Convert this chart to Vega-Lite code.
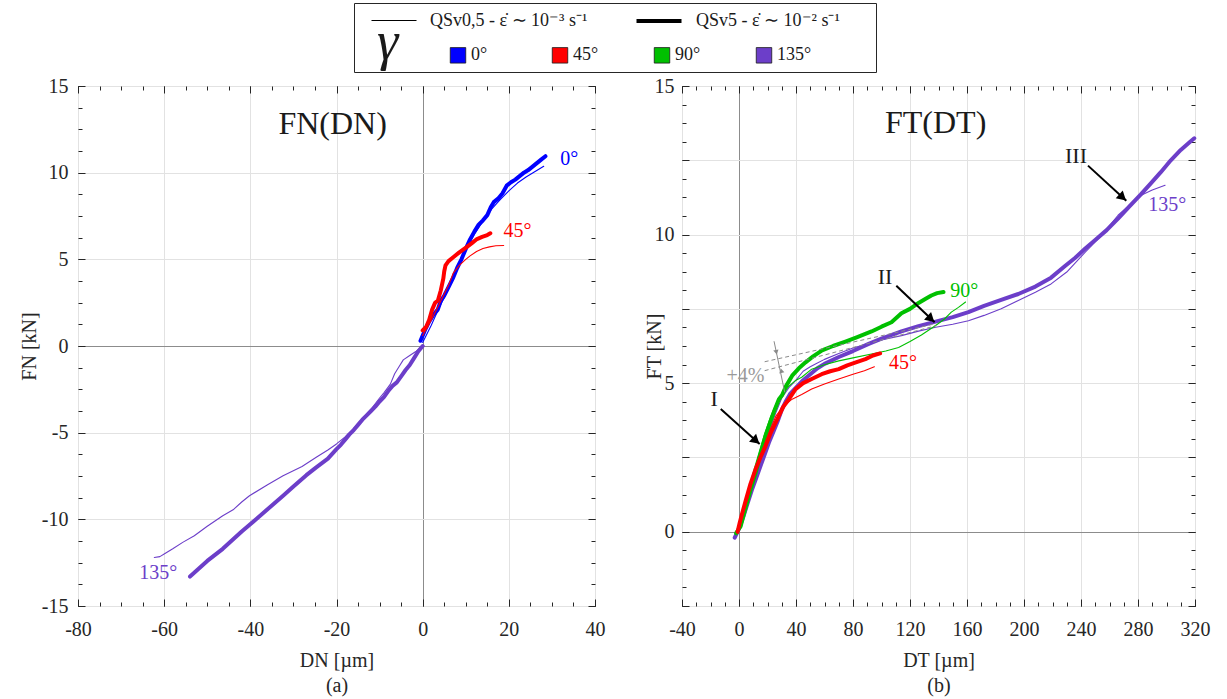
{
"$schema": "https://vega.github.io/schema/vega-lite/v6.json",
"padding": {"left": 18, "top": 2, "right": 5, "bottom": 2},
"config": {
  "font": "Liberation Serif",
  "view": {"stroke": "#262626", "strokeWidth": 1},
  "text": {"font": "Liberation Serif"},
  "axis": {"domain": false, "labelFont": "Liberation Serif", "titleFont": "Liberation Serif", "labelFontSize": 20, "titleFontSize": 20, "titleFontWeight": "normal", "labelColor": "#262626", "titleColor": "#262626", "tickColor": "#262626", "tickWidth": 1, "labelFlush": false, "labelOverlap": false, "gridColor": "#e2e2e2", "gridWidth": 1},
  "legend": {"labelFont": "Liberation Serif", "titleFont": "Liberation Serif", "labelFontSize": 18, "labelColor": "#1a1a1a", "titleColor": "#1a1a1a", "padding": 0}
},
"datasets": {
  "curves": [
    {"p":"a","g":"0°","t":"thick","x":-0.5,"y":0.3},{"p":"a","g":"0°","t":"thick","x":0.5,"y":0.9},{"p":"a","g":"0°","t":"thick","x":1.5,"y":1.4},{"p":"a","g":"0°","t":"thick","x":2.5,"y":1.8},{"p":"a","g":"0°","t":"thick","x":3.5,"y":2.1},{"p":"a","g":"0°","t":"thick","x":4.2,"y":2.6},{"p":"a","g":"0°","t":"thick","x":5,"y":2.9},{"p":"a","g":"0°","t":"thick","x":6,"y":3.4},{"p":"a","g":"0°","t":"thick","x":7,"y":3.9},{"p":"a","g":"0°","t":"thick","x":8,"y":4.5},{"p":"a","g":"0°","t":"thick","x":9,"y":5.0},{"p":"a","g":"0°","t":"thick","x":10,"y":5.6},{"p":"a","g":"0°","t":"thick","x":11,"y":6.15},{"p":"a","g":"0°","t":"thick","x":12,"y":6.6},{"p":"a","g":"0°","t":"thick","x":13,"y":7.0},{"p":"a","g":"0°","t":"thick","x":14,"y":7.25},{"p":"a","g":"0°","t":"thick","x":15,"y":7.55},{"p":"a","g":"0°","t":"thick","x":15.8,"y":8.0},{"p":"a","g":"0°","t":"thick","x":16.5,"y":8.3},{"p":"a","g":"0°","t":"thick","x":17.5,"y":8.5},{"p":"a","g":"0°","t":"thick","x":18.5,"y":8.8},{"p":"a","g":"0°","t":"thick","x":19.5,"y":9.25},{"p":"a","g":"0°","t":"thick","x":20.5,"y":9.45},{"p":"a","g":"0°","t":"thick","x":21.5,"y":9.6},{"p":"a","g":"0°","t":"thick","x":22.5,"y":9.8},{"p":"a","g":"0°","t":"thick","x":23.5,"y":10.0},{"p":"a","g":"0°","t":"thick","x":24.5,"y":10.15},{"p":"a","g":"0°","t":"thick","x":25.5,"y":10.35},{"p":"a","g":"0°","t":"thick","x":26.5,"y":10.55},{"p":"a","g":"0°","t":"thick","x":27.5,"y":10.75},{"p":"a","g":"0°","t":"thick","x":28.5,"y":10.95},
    {"p":"a","g":"0°","t":"thin","x":0,"y":0.2},{"p":"a","g":"0°","t":"thin","x":2,"y":1.2},{"p":"a","g":"0°","t":"thin","x":4,"y":2.3},{"p":"a","g":"0°","t":"thin","x":6,"y":3.3},{"p":"a","g":"0°","t":"thin","x":8,"y":4.4},{"p":"a","g":"0°","t":"thin","x":10,"y":5.5},{"p":"a","g":"0°","t":"thin","x":12,"y":6.45},{"p":"a","g":"0°","t":"thin","x":14,"y":7.2},{"p":"a","g":"0°","t":"thin","x":16,"y":7.9},{"p":"a","g":"0°","t":"thin","x":18,"y":8.45},{"p":"a","g":"0°","t":"thin","x":20,"y":8.95},{"p":"a","g":"0°","t":"thin","x":22,"y":9.4},{"p":"a","g":"0°","t":"thin","x":24,"y":9.75},{"p":"a","g":"0°","t":"thin","x":26,"y":10.05},{"p":"a","g":"0°","t":"thin","x":28.1,"y":10.37},
    {"p":"a","g":"45°","t":"thick","x":0,"y":0.9},{"p":"a","g":"45°","t":"thick","x":0.8,"y":1.1},{"p":"a","g":"45°","t":"thick","x":1.5,"y":1.5},{"p":"a","g":"45°","t":"thick","x":2.2,"y":2.1},{"p":"a","g":"45°","t":"thick","x":2.9,"y":2.5},{"p":"a","g":"45°","t":"thick","x":3.5,"y":2.6},{"p":"a","g":"45°","t":"thick","x":4.2,"y":3.2},{"p":"a","g":"45°","t":"thick","x":4.8,"y":3.9},{"p":"a","g":"45°","t":"thick","x":5.0,"y":4.3},{"p":"a","g":"45°","t":"thick","x":5.3,"y":4.65},{"p":"a","g":"45°","t":"thick","x":6.0,"y":4.9},{"p":"a","g":"45°","t":"thick","x":7.1,"y":5.12},{"p":"a","g":"45°","t":"thick","x":8.5,"y":5.4},{"p":"a","g":"45°","t":"thick","x":10.2,"y":5.7},{"p":"a","g":"45°","t":"thick","x":11.5,"y":5.95},{"p":"a","g":"45°","t":"thick","x":12.6,"y":6.17},{"p":"a","g":"45°","t":"thick","x":13.8,"y":6.3},{"p":"a","g":"45°","t":"thick","x":15.0,"y":6.4},{"p":"a","g":"45°","t":"thick","x":15.7,"y":6.5},
    {"p":"a","g":"45°","t":"thin","x":0,"y":0.6},{"p":"a","g":"45°","t":"thin","x":2,"y":1.5},{"p":"a","g":"45°","t":"thin","x":4,"y":2.5},{"p":"a","g":"45°","t":"thin","x":6,"y":3.5},{"p":"a","g":"45°","t":"thin","x":7.1,"y":4.2},{"p":"a","g":"45°","t":"thin","x":8.5,"y":4.65},{"p":"a","g":"45°","t":"thin","x":10,"y":5.0},{"p":"a","g":"45°","t":"thin","x":11,"y":5.2},{"p":"a","g":"45°","t":"thin","x":12.5,"y":5.45},{"p":"a","g":"45°","t":"thin","x":14,"y":5.62},{"p":"a","g":"45°","t":"thin","x":15.5,"y":5.72},{"p":"a","g":"45°","t":"thin","x":17,"y":5.78},{"p":"a","g":"45°","t":"thin","x":18.8,"y":5.8},
    {"p":"a","g":"135°","t":"thick","x":0,"y":0},{"p":"a","g":"135°","t":"thick","x":-1,"y":-0.3},{"p":"a","g":"135°","t":"thick","x":-2,"y":-0.7},{"p":"a","g":"135°","t":"thick","x":-3,"y":-1.1},{"p":"a","g":"135°","t":"thick","x":-4,"y":-1.4},{"p":"a","g":"135°","t":"thick","x":-5,"y":-1.75},{"p":"a","g":"135°","t":"thick","x":-6,"y":-2.1},{"p":"a","g":"135°","t":"thick","x":-7,"y":-2.3},{"p":"a","g":"135°","t":"thick","x":-8,"y":-2.6},{"p":"a","g":"135°","t":"thick","x":-9,"y":-2.95},{"p":"a","g":"135°","t":"thick","x":-10,"y":-3.2},{"p":"a","g":"135°","t":"thick","x":-11,"y":-3.5},{"p":"a","g":"135°","t":"thick","x":-12,"y":-3.75},{"p":"a","g":"135°","t":"thick","x":-13,"y":-4.0},{"p":"a","g":"135°","t":"thick","x":-14,"y":-4.25},{"p":"a","g":"135°","t":"thick","x":-15,"y":-4.55},{"p":"a","g":"135°","t":"thick","x":-16,"y":-4.85},{"p":"a","g":"135°","t":"thick","x":-17,"y":-5.1},{"p":"a","g":"135°","t":"thick","x":-18,"y":-5.4},{"p":"a","g":"135°","t":"thick","x":-19,"y":-5.7},{"p":"a","g":"135°","t":"thick","x":-20,"y":-5.95},{"p":"a","g":"135°","t":"thick","x":-22,"y":-6.5},{"p":"a","g":"135°","t":"thick","x":-24.7,"y":-7.0},{"p":"a","g":"135°","t":"thick","x":-27,"y":-7.45},{"p":"a","g":"135°","t":"thick","x":-30,"y":-8.1},{"p":"a","g":"135°","t":"thick","x":-32.4,"y":-8.64},{"p":"a","g":"135°","t":"thick","x":-35,"y":-9.2},{"p":"a","g":"135°","t":"thick","x":-38.6,"y":-9.98},{"p":"a","g":"135°","t":"thick","x":-42,"y":-10.7},{"p":"a","g":"135°","t":"thick","x":-46.4,"y":-11.7},{"p":"a","g":"135°","t":"thick","x":-50,"y":-12.4},{"p":"a","g":"135°","t":"thick","x":-52,"y":-12.85},{"p":"a","g":"135°","t":"thick","x":-54,"y":-13.3},
    {"p":"a","g":"135°","t":"thin","x":0,"y":0},{"p":"a","g":"135°","t":"thin","x":-1.5,"y":-0.3},{"p":"a","g":"135°","t":"thin","x":-3,"y":-0.55},{"p":"a","g":"135°","t":"thin","x":-4.5,"y":-0.8},{"p":"a","g":"135°","t":"thin","x":-5.5,"y":-1.2},{"p":"a","g":"135°","t":"thin","x":-6.5,"y":-1.6},{"p":"a","g":"135°","t":"thin","x":-7.5,"y":-2.2},{"p":"a","g":"135°","t":"thin","x":-9,"y":-2.7},{"p":"a","g":"135°","t":"thin","x":-10,"y":-3.0},{"p":"a","g":"135°","t":"thin","x":-12,"y":-3.65},{"p":"a","g":"135°","t":"thin","x":-14,"y":-4.2},{"p":"a","g":"135°","t":"thin","x":-16,"y":-4.75},{"p":"a","g":"135°","t":"thin","x":-18,"y":-5.25},{"p":"a","g":"135°","t":"thin","x":-20,"y":-5.65},{"p":"a","g":"135°","t":"thin","x":-22,"y":-6.0},{"p":"a","g":"135°","t":"thin","x":-24.7,"y":-6.42},{"p":"a","g":"135°","t":"thin","x":-28,"y":-6.95},{"p":"a","g":"135°","t":"thin","x":-32.4,"y":-7.48},{"p":"a","g":"135°","t":"thin","x":-36,"y":-8.0},{"p":"a","g":"135°","t":"thin","x":-40.2,"y":-8.64},{"p":"a","g":"135°","t":"thin","x":-42,"y":-9.0},{"p":"a","g":"135°","t":"thin","x":-44,"y":-9.45},{"p":"a","g":"135°","t":"thin","x":-46.4,"y":-9.79},{"p":"a","g":"135°","t":"thin","x":-50,"y":-10.4},{"p":"a","g":"135°","t":"thin","x":-53,"y":-10.95},{"p":"a","g":"135°","t":"thin","x":-55.7,"y":-11.33},{"p":"a","g":"135°","t":"thin","x":-58,"y":-11.7},{"p":"a","g":"135°","t":"thin","x":-60,"y":-12.0},{"p":"a","g":"135°","t":"thin","x":-61,"y":-12.15},{"p":"a","g":"135°","t":"thin","x":-62.3,"y":-12.2},
    {"p":"b","g":"135°","t":"thick","x":-3,"y":-0.2},{"p":"b","g":"135°","t":"thick","x":0,"y":0.1},{"p":"b","g":"135°","t":"thick","x":3,"y":0.5},{"p":"b","g":"135°","t":"thick","x":6,"y":0.95},{"p":"b","g":"135°","t":"thick","x":9,"y":1.4},{"p":"b","g":"135°","t":"thick","x":12,"y":1.8},{"p":"b","g":"135°","t":"thick","x":15,"y":2.2},{"p":"b","g":"135°","t":"thick","x":18,"y":2.6},{"p":"b","g":"135°","t":"thick","x":21,"y":3.0},{"p":"b","g":"135°","t":"thick","x":24,"y":3.35},{"p":"b","g":"135°","t":"thick","x":27,"y":3.7},{"p":"b","g":"135°","t":"thick","x":30,"y":4.1},{"p":"b","g":"135°","t":"thick","x":33,"y":4.4},{"p":"b","g":"135°","t":"thick","x":36,"y":4.65},{"p":"b","g":"135°","t":"thick","x":40,"y":4.85},{"p":"b","g":"135°","t":"thick","x":45,"y":5.1},{"p":"b","g":"135°","t":"thick","x":50,"y":5.3},{"p":"b","g":"135°","t":"thick","x":55,"y":5.5},{"p":"b","g":"135°","t":"thick","x":60,"y":5.65},{"p":"b","g":"135°","t":"thick","x":70,"y":5.88},{"p":"b","g":"135°","t":"thick","x":80,"y":6.08},{"p":"b","g":"135°","t":"thick","x":91,"y":6.32},{"p":"b","g":"135°","t":"thick","x":100,"y":6.5},{"p":"b","g":"135°","t":"thick","x":114,"y":6.74},{"p":"b","g":"135°","t":"thick","x":126,"y":6.92},{"p":"b","g":"135°","t":"thick","x":138,"y":7.07},{"p":"b","g":"135°","t":"thick","x":150,"y":7.22},{"p":"b","g":"135°","t":"thick","x":161,"y":7.39},{"p":"b","g":"135°","t":"thick","x":172,"y":7.6},{"p":"b","g":"135°","t":"thick","x":184,"y":7.8},{"p":"b","g":"135°","t":"thick","x":196,"y":8.0},{"p":"b","g":"135°","t":"thick","x":208,"y":8.25},{"p":"b","g":"135°","t":"thick","x":219,"y":8.55},{"p":"b","g":"135°","t":"thick","x":229,"y":8.95},{"p":"b","g":"135°","t":"thick","x":236,"y":9.22},{"p":"b","g":"135°","t":"thick","x":243,"y":9.53},{"p":"b","g":"135°","t":"thick","x":250,"y":9.82},{"p":"b","g":"135°","t":"thick","x":258,"y":10.15},{"p":"b","g":"135°","t":"thick","x":266,"y":10.54},{"p":"b","g":"135°","t":"thick","x":274,"y":10.95},{"p":"b","g":"135°","t":"thick","x":282,"y":11.35},{"p":"b","g":"135°","t":"thick","x":289,"y":11.72},{"p":"b","g":"135°","t":"thick","x":296,"y":12.1},{"p":"b","g":"135°","t":"thick","x":303,"y":12.5},{"p":"b","g":"135°","t":"thick","x":310,"y":12.85},{"p":"b","g":"135°","t":"thick","x":316,"y":13.1},{"p":"b","g":"135°","t":"thick","x":319.5,"y":13.24},
    {"p":"b","g":"135°","t":"thin","x":-3,"y":-0.1},{"p":"b","g":"135°","t":"thin","x":0,"y":0.2},{"p":"b","g":"135°","t":"thin","x":5,"y":1.0},{"p":"b","g":"135°","t":"thin","x":10,"y":1.75},{"p":"b","g":"135°","t":"thin","x":15,"y":2.5},{"p":"b","g":"135°","t":"thin","x":20,"y":3.2},{"p":"b","g":"135°","t":"thin","x":25,"y":3.9},{"p":"b","g":"135°","t":"thin","x":30,"y":4.5},{"p":"b","g":"135°","t":"thin","x":35,"y":4.85},{"p":"b","g":"135°","t":"thin","x":40,"y":5.1},{"p":"b","g":"135°","t":"thin","x":45,"y":5.4},{"p":"b","g":"135°","t":"thin","x":50,"y":5.55},{"p":"b","g":"135°","t":"thin","x":55,"y":5.68},{"p":"b","g":"135°","t":"thin","x":60,"y":5.8},{"p":"b","g":"135°","t":"thin","x":70,"y":6.0},{"p":"b","g":"135°","t":"thin","x":80,"y":6.18},{"p":"b","g":"135°","t":"thin","x":91,"y":6.33},{"p":"b","g":"135°","t":"thin","x":100,"y":6.45},{"p":"b","g":"135°","t":"thin","x":114,"y":6.6},{"p":"b","g":"135°","t":"thin","x":126,"y":6.75},{"p":"b","g":"135°","t":"thin","x":138,"y":6.88},{"p":"b","g":"135°","t":"thin","x":150,"y":6.98},{"p":"b","g":"135°","t":"thin","x":161,"y":7.1},{"p":"b","g":"135°","t":"thin","x":172,"y":7.28},{"p":"b","g":"135°","t":"thin","x":184,"y":7.5},{"p":"b","g":"135°","t":"thin","x":196,"y":7.78},{"p":"b","g":"135°","t":"thin","x":208,"y":8.06},{"p":"b","g":"135°","t":"thin","x":219,"y":8.34},{"p":"b","g":"135°","t":"thin","x":230,"y":8.74},{"p":"b","g":"135°","t":"thin","x":243,"y":9.41},{"p":"b","g":"135°","t":"thin","x":255,"y":10.0},{"p":"b","g":"135°","t":"thin","x":266,"y":10.65},{"p":"b","g":"135°","t":"thin","x":273,"y":10.95},{"p":"b","g":"135°","t":"thin","x":280,"y":11.27},{"p":"b","g":"135°","t":"thin","x":290,"y":11.5},{"p":"b","g":"135°","t":"thin","x":299,"y":11.66},
    {"p":"b","g":"90°","t":"thick","x":-2,"y":-0.05},{"p":"b","g":"90°","t":"thick","x":0,"y":0.1},{"p":"b","g":"90°","t":"thick","x":1.1,"y":0.18},{"p":"b","g":"90°","t":"thick","x":4,"y":0.7},{"p":"b","g":"90°","t":"thick","x":8,"y":1.4},{"p":"b","g":"90°","t":"thick","x":11.6,"y":1.98},{"p":"b","g":"90°","t":"thick","x":15,"y":2.6},{"p":"b","g":"90°","t":"thick","x":18.6,"y":3.22},{"p":"b","g":"90°","t":"thick","x":22,"y":3.7},{"p":"b","g":"90°","t":"thick","x":25,"y":4.1},{"p":"b","g":"90°","t":"thick","x":28,"y":4.46},{"p":"b","g":"90°","t":"thick","x":30.3,"y":4.6},{"p":"b","g":"90°","t":"thick","x":33,"y":4.9},{"p":"b","g":"90°","t":"thick","x":37.3,"y":5.25},{"p":"b","g":"90°","t":"thick","x":42,"y":5.5},{"p":"b","g":"90°","t":"thick","x":46.7,"y":5.7},{"p":"b","g":"90°","t":"thick","x":52,"y":5.9},{"p":"b","g":"90°","t":"thick","x":58.3,"y":6.1},{"p":"b","g":"90°","t":"thick","x":66,"y":6.25},{"p":"b","g":"90°","t":"thick","x":74.7,"y":6.4},{"p":"b","g":"90°","t":"thick","x":83,"y":6.55},{"p":"b","g":"90°","t":"thick","x":93,"y":6.74},{"p":"b","g":"90°","t":"thick","x":100,"y":6.9},{"p":"b","g":"90°","t":"thick","x":107,"y":7.05},{"p":"b","g":"90°","t":"thick","x":114,"y":7.35},{"p":"b","g":"90°","t":"thick","x":120,"y":7.5},{"p":"b","g":"90°","t":"thick","x":126,"y":7.7},{"p":"b","g":"90°","t":"thick","x":131,"y":7.84},{"p":"b","g":"90°","t":"thick","x":135,"y":7.95},{"p":"b","g":"90°","t":"thick","x":139,"y":8.03},{"p":"b","g":"90°","t":"thick","x":143.5,"y":8.07},
    {"p":"b","g":"90°","t":"thin","x":-2,"y":-0.1},{"p":"b","g":"90°","t":"thin","x":2,"y":0.5},{"p":"b","g":"90°","t":"thin","x":6,"y":1.3},{"p":"b","g":"90°","t":"thin","x":10,"y":2.0},{"p":"b","g":"90°","t":"thin","x":14,"y":2.65},{"p":"b","g":"90°","t":"thin","x":18,"y":3.3},{"p":"b","g":"90°","t":"thin","x":22,"y":3.85},{"p":"b","g":"90°","t":"thin","x":26,"y":4.3},{"p":"b","g":"90°","t":"thin","x":30,"y":4.6},{"p":"b","g":"90°","t":"thin","x":35,"y":4.9},{"p":"b","g":"90°","t":"thin","x":40,"y":5.1},{"p":"b","g":"90°","t":"thin","x":44,"y":5.2},{"p":"b","g":"90°","t":"thin","x":51,"y":5.47},{"p":"b","g":"90°","t":"thin","x":60,"y":5.62},{"p":"b","g":"90°","t":"thin","x":70,"y":5.75},{"p":"b","g":"90°","t":"thin","x":80,"y":5.85},{"p":"b","g":"90°","t":"thin","x":93,"y":5.98},{"p":"b","g":"90°","t":"thin","x":103,"y":6.08},{"p":"b","g":"90°","t":"thin","x":112,"y":6.2},{"p":"b","g":"90°","t":"thin","x":120,"y":6.4},{"p":"b","g":"90°","t":"thin","x":128,"y":6.62},{"p":"b","g":"90°","t":"thin","x":138,"y":6.94},{"p":"b","g":"90°","t":"thin","x":144,"y":7.15},{"p":"b","g":"90°","t":"thin","x":149,"y":7.39},{"p":"b","g":"90°","t":"thin","x":154,"y":7.55},{"p":"b","g":"90°","t":"thin","x":159,"y":7.73},
    {"p":"b","g":"45°","t":"thick","x":-1,"y":0.0},{"p":"b","g":"45°","t":"thick","x":0.5,"y":0.3},{"p":"b","g":"45°","t":"thick","x":2.3,"y":0.63},{"p":"b","g":"45°","t":"thick","x":5,"y":1.1},{"p":"b","g":"45°","t":"thick","x":8,"y":1.6},{"p":"b","g":"45°","t":"thick","x":11.6,"y":2.1},{"p":"b","g":"45°","t":"thick","x":15,"y":2.5},{"p":"b","g":"45°","t":"thick","x":18.6,"y":2.88},{"p":"b","g":"45°","t":"thick","x":22,"y":3.3},{"p":"b","g":"45°","t":"thick","x":25,"y":3.6},{"p":"b","g":"45°","t":"thick","x":28,"y":3.9},{"p":"b","g":"45°","t":"thick","x":31,"y":4.2},{"p":"b","g":"45°","t":"thick","x":35,"y":4.46},{"p":"b","g":"45°","t":"thick","x":39.7,"y":4.8},{"p":"b","g":"45°","t":"thick","x":45,"y":5.0},{"p":"b","g":"45°","t":"thick","x":51,"y":5.14},{"p":"b","g":"45°","t":"thick","x":58,"y":5.3},{"p":"b","g":"45°","t":"thick","x":64,"y":5.4},{"p":"b","g":"45°","t":"thick","x":70,"y":5.47},{"p":"b","g":"45°","t":"thick","x":76,"y":5.6},{"p":"b","g":"45°","t":"thick","x":82,"y":5.7},{"p":"b","g":"45°","t":"thick","x":88.7,"y":5.81},{"p":"b","g":"45°","t":"thick","x":94,"y":5.93},{"p":"b","g":"45°","t":"thick","x":99,"y":6.0},
    {"p":"b","g":"45°","t":"thin","x":-1,"y":-0.05},{"p":"b","g":"45°","t":"thin","x":2,"y":0.5},{"p":"b","g":"45°","t":"thin","x":6,"y":1.1},{"p":"b","g":"45°","t":"thin","x":10,"y":1.8},{"p":"b","g":"45°","t":"thin","x":14,"y":2.4},{"p":"b","g":"45°","t":"thin","x":18,"y":2.95},{"p":"b","g":"45°","t":"thin","x":22,"y":3.45},{"p":"b","g":"45°","t":"thin","x":26,"y":3.9},{"p":"b","g":"45°","t":"thin","x":30,"y":4.15},{"p":"b","g":"45°","t":"thin","x":33,"y":4.3},{"p":"b","g":"45°","t":"thin","x":37.3,"y":4.46},{"p":"b","g":"45°","t":"thin","x":44,"y":4.62},{"p":"b","g":"45°","t":"thin","x":51,"y":4.8},{"p":"b","g":"45°","t":"thin","x":60,"y":4.97},{"p":"b","g":"45°","t":"thin","x":70,"y":5.14},{"p":"b","g":"45°","t":"thin","x":80,"y":5.3},{"p":"b","g":"45°","t":"thin","x":88,"y":5.42},{"p":"b","g":"45°","t":"thin","x":95,"y":5.55}
  ],
  "keys": [
    {"g":"0°","t":"thin"},{"g":"45°","t":"thick"},{"g":"90°","t":"thin"},{"g":"135°","t":"thick"}
  ],
  "angles": [
    {"p":"a","g":"0°","x":34,"y":10.8},{"p":"a","g":"45°","x":22,"y":6.65},{"p":"a","g":"135°","x":-61.4,"y":-13.1},
    {"p":"b","g":"90°","x":158,"y":8.1},{"p":"b","g":"45°","x":115,"y":5.68},{"p":"b","g":"135°","x":300.5,"y":10.98}
  ],
  "notes": [
    {"p":"a","k":"title","txt":"FN(DN)","x":-20.9,"y":12.8},
    {"p":"b","k":"title","txt":"FT(DT)","x":138,"y":13.75},
    {"p":"b","k":"roman","txt":"I","x":-17.5,"y":4.47},
    {"p":"b","k":"roman","txt":"II","x":102.5,"y":8.57},
    {"p":"b","k":"roman","txt":"III","x":236.5,"y":12.64},
    {"p":"b","k":"pct","txt":"+4%","x":4.5,"y":5.24}
  ],
  "arrows": [
    {"k":"black","x":-12.8,"y":4.13,"x2":14.5,"y2":2.95},
    {"k":"black","x":110.4,"y":8.28,"x2":137.3,"y2":7.05},
    {"k":"black","x":244.9,"y":12.32,"x2":271.8,"y2":11.14},
    {"k":"gray","x":24.6,"y":6.41,"x2":32.1,"y2":4.69},
    {"k":"dash","x":18,"y":5.72,"x2":138,"y2":7.0},
    {"k":"dash","x":18,"y":5.42,"x2":138,"y2":6.93}
  ],
  "heads": [
    {"k":"black","x":11.9,"y":3.06},{"k":"black","x":134.7,"y":7.16},{"k":"black","x":269.2,"y":11.25},
    {"k":"down","x":26.2,"y":6.04},{"k":"up","x":29.7,"y":5.42}
  ]
},
"vconcat": [
  {"hconcat": [
    {"width": 260, "height": 69, "view": {"stroke": null}, "data": {"values": []}, "mark": "point"},
    {"width": 522, "height": 69, "view": {"stroke": "#262626", "strokeWidth": 1},
     "data": {"name": "keys"},
     "layer": [
      {"mark": {"type": "square", "opacity": 0},
       "encoding": {
        "color": {"field": "g", "type": "nominal", "scale": {"domain": ["0°","45°","90°","135°"], "range": ["#0000ff","#ff0000","#00c000","#6c3ec9"]},
                  "legend": {"orient": "none", "legendX": 23, "legendY": 43, "direction": "horizontal", "title": "γ", "titleOrient": "left", "titleFontSize": 54, "titleFontWeight": "normal", "titleFontStyle": "italic", "titlePadding": 50, "titleBaseline": "top", "symbolType": "square", "symbolSize": 240, "labelFontSize": 18, "labelOffset": 4, "gridAlign": "all", "columnPadding": 44, "encode": {"symbols": {"update": {"stroke": {"value": "#1a1a1a"}, "strokeWidth": {"value": 0.8}, "opacity": {"value": 1}}}, "title": {"update": {"dy": {"value": -39}}}}}}
       }},
      {"mark": {"type": "line", "opacity": 0, "color": "black"},
       "encoding": {
        "strokeWidth": {"field": "t", "type": "ordinal", "scale": {"domain": ["thin","thick"], "range": [1.1, 4]},
                  "legend": {"orient": "none", "legendX": 24, "legendY": 1, "direction": "horizontal", "title": null, "symbolType": "M-1.5,0H1.5", "symbolSize": 900, "labelFontSize": 18, "labelOffset": 20, "labelLimit": 400, "columnPadding": 44, "labelExpr": "datum.label == 'thin' ? 'QSv0,5 - ε̇ ∼ 10⁻³ s⁻¹' : 'QSv5 - ε̇ ∼ 10⁻² s⁻¹'", "encode": {"symbols": {"update": {"stroke": {"value": "black"}, "opacity": {"value": 1}}}}}}
       }}
     ]}
   ],
   "spacing": 15,
   "resolve": {"legend": {"color": "independent", "strokeWidth": "independent"}}
  },
  {"hconcat": [
    {"width": 517, "height": 520,
     "layer": [
      {"data": {"name": "curves"}, "transform": [{"filter": "datum.p == 'a'"}],
       "mark": {"type": "line", "strokeCap": "round", "strokeJoin": "round"},
       "encoding": {
        "x": {"field": "x", "type": "quantitative", "scale": {"domain": [-80, 40], "nice": false, "zero": false},
              "axis": {"orient": "bottom", "values": [-80,-60,-40,-20,0,20,40], "labelExpr": "replace(datum.label, '−', '-')", "ticks": false, "grid": true, "gridColor": {"condition": {"test": "datum.value === 0", "value": "#8c8c8c"}, "value": "#e2e2e2"}, "labelPadding": 13, "title": ["DN [µm]", "(a)"], "titlePadding": 11, "titleLineHeight": 25}},
        "y": {"field": "y", "type": "quantitative", "scale": {"domain": [-15, 15], "nice": false, "zero": false},
              "axis": {"orient": "left", "values": [-15,-10,-5,0,5,10,15], "labelExpr": "replace(datum.label, '−', '-')", "ticks": false, "grid": true, "gridColor": {"condition": {"test": "datum.value === 0", "value": "#8c8c8c"}, "value": "#e2e2e2"}, "labelPadding": 10, "title": "FN [kN]", "titlePadding": 2}},
        "color": {"field": "g", "type": "nominal", "scale": {"domain": ["0°","45°","90°","135°"], "range": ["#0000ff","#ff0000","#00c000","#6c3ec9"]}, "legend": null},
        "strokeWidth": {"field": "t", "type": "ordinal", "scale": {"domain": ["thin","thick"], "range": [1.1, 4]}, "legend": null}
       }},
      {"data": {"values": [{"x": 0, "y": 0}]}, "mark": {"type": "point", "opacity": 0},
       "encoding": {
        "x": {"field": "x", "type": "quantitative", "scale": {"domain": [-80, 40], "nice": false, "zero": false}, "axis": {"orient": "bottom", "values": [-80,-60,-40,-20,0,20,40], "labels": false, "grid": false, "ticks": true, "tickSize": -7, "title": null}},
        "y": {"field": "y", "type": "quantitative", "scale": {"domain": [-15, 15], "nice": false, "zero": false}, "axis": {"orient": "left", "values": [-15,-10,-5,0,5,10,15], "labels": false, "grid": false, "ticks": true, "tickSize": -7, "title": null}}
       }},
      {"data": {"values": [{"x": 0, "y": 0}]}, "mark": {"type": "point", "opacity": 0},
       "encoding": {
        "x": {"field": "x", "type": "quantitative", "scale": {"domain": [-80, 40], "nice": false, "zero": false}, "axis": {"orient": "bottom", "values": [-80,-75,-70,-65,-60,-55,-50,-45,-40,-35,-30,-25,-20,-15,-10,-5,0,5,10,15,20,25,30,35,40], "labels": false, "grid": false, "ticks": true, "tickSize": -4, "title": null}},
        "y": {"field": "y", "type": "quantitative", "scale": {"domain": [-15, 15], "nice": false, "zero": false}, "axis": {"orient": "left", "values": [-15,-13.75,-12.5,-11.25,-10,-8.75,-7.5,-6.25,-5,-3.75,-2.5,-1.25,0,1.25,2.5,3.75,5,6.25,7.5,8.75,10,11.25,12.5,13.75,15], "labels": false, "grid": false, "ticks": true, "tickSize": -4, "title": null}}
       }},
      {"data": {"values": [{"x": 0, "y": 0}]}, "mark": {"type": "point", "opacity": 0},
       "encoding": {
        "x": {"field": "x", "type": "quantitative", "scale": {"domain": [-80, 40], "nice": false, "zero": false}, "axis": {"orient": "top", "values": [-80,-60,-40,-20,0,20,40], "labels": false, "grid": false, "ticks": true, "tickSize": -7, "title": null}},
        "y": {"field": "y", "type": "quantitative", "scale": {"domain": [-15, 15], "nice": false, "zero": false}, "axis": {"orient": "right", "values": [-15,-10,-5,0,5,10,15], "labels": false, "grid": false, "ticks": true, "tickSize": -7, "title": null}}
       }},
      {"data": {"values": [{"x": 0, "y": 0}]}, "mark": {"type": "point", "opacity": 0},
       "encoding": {
        "x": {"field": "x", "type": "quantitative", "scale": {"domain": [-80, 40], "nice": false, "zero": false}, "axis": {"orient": "top", "values": [-80,-75,-70,-65,-60,-55,-50,-45,-40,-35,-30,-25,-20,-15,-10,-5,0,5,10,15,20,25,30,35,40], "labels": false, "grid": false, "ticks": true, "tickSize": -4, "title": null}},
        "y": {"field": "y", "type": "quantitative", "scale": {"domain": [-15, 15], "nice": false, "zero": false}, "axis": {"orient": "right", "values": [-15,-13.75,-12.5,-11.25,-10,-8.75,-7.5,-6.25,-5,-3.75,-2.5,-1.25,0,1.25,2.5,3.75,5,6.25,7.5,8.75,10,11.25,12.5,13.75,15], "labels": false, "grid": false, "ticks": true, "tickSize": -4, "title": null}}
       }},
      {"data": {"name": "angles"}, "transform": [{"filter": "datum.p == 'a'"}],
       "mark": {"type": "text", "fontSize": 20, "align": "center", "baseline": "middle"},
       "encoding": {
        "x": {"field": "x", "type": "quantitative", "scale": {"domain": [-80, 40], "nice": false, "zero": false}, "axis": null},
        "y": {"field": "y", "type": "quantitative", "scale": {"domain": [-15, 15], "nice": false, "zero": false}, "axis": null},
        "text": {"field": "g"},
        "color": {"field": "g", "type": "nominal", "scale": {"domain": ["0°","45°","90°","135°"], "range": ["#0000ff","#ff0000","#00c000","#6c3ec9"]}, "legend": null}
       }},
      {"data": {"name": "notes"}, "transform": [{"filter": "datum.p == 'a' && datum.k == 'title'"}],
       "mark": {"type": "text", "fontSize": 32, "align": "center", "baseline": "middle", "color": "#1a1a1a"},
       "encoding": {
        "x": {"field": "x", "type": "quantitative", "scale": {"domain": [-80, 40], "nice": false, "zero": false}, "axis": null},
        "y": {"field": "y", "type": "quantitative", "scale": {"domain": [-15, 15], "nice": false, "zero": false}, "axis": null},
        "text": {"field": "txt"}
       }}
     ],
     "resolve": {"axis": {"x": "independent", "y": "independent"}}
    },
    {"width": 513, "height": 520,
     "layer": [
      {"data": {"name": "curves"}, "transform": [{"filter": "datum.p == 'b'"}],
       "mark": {"type": "line", "strokeCap": "round", "strokeJoin": "round"},
       "encoding": {
        "x": {"field": "x", "type": "quantitative", "scale": {"domain": [-40, 320], "nice": false, "zero": false},
              "axis": {"orient": "bottom", "values": [-40,0,40,80,120,160,200,240,280,320], "labelExpr": "replace(datum.label, '−', '-')", "ticks": false, "grid": true, "gridColor": {"condition": {"test": "datum.value === 0", "value": "#8c8c8c"}, "value": "#e2e2e2"}, "labelPadding": 13, "title": ["DT [µm]", "(b)"], "titlePadding": 11, "titleLineHeight": 25}},
        "y": {"field": "y", "type": "quantitative", "scale": {"domain": [-2.5, 15], "nice": false, "zero": false},
              "axis": {"orient": "left", "values": [-2.5,0,2.5,5,7.5,10,12.5,15], "labelExpr": "datum.value % 5 === 0 ? datum.label : ''", "ticks": false, "grid": true, "gridColor": {"condition": {"test": "datum.value === 0", "value": "#8c8c8c"}, "value": "#e2e2e2"}, "labelPadding": 8, "title": "FT [kN]", "titlePadding": -10}},
        "color": {"field": "g", "type": "nominal", "scale": {"domain": ["0°","45°","90°","135°"], "range": ["#0000ff","#ff0000","#00c000","#6c3ec9"]}, "legend": null},
        "strokeWidth": {"field": "t", "type": "ordinal", "scale": {"domain": ["thin","thick"], "range": [1.1, 4]}, "legend": null}
       }},
      {"data": {"values": [{"x": 0, "y": 0}]}, "mark": {"type": "point", "opacity": 0},
       "encoding": {
        "x": {"field": "x", "type": "quantitative", "scale": {"domain": [-40, 320], "nice": false, "zero": false}, "axis": {"orient": "bottom", "values": [-40,0,40,80,120,160,200,240,280,320], "labels": false, "grid": false, "ticks": true, "tickSize": -7, "title": null}},
        "y": {"field": "y", "type": "quantitative", "scale": {"domain": [-2.5, 15], "nice": false, "zero": false}, "axis": {"orient": "left", "values": [-2.5,0,2.5,5,7.5,10,12.5,15], "labels": false, "grid": false, "ticks": true, "tickSize": -7, "title": null}}
       }},
      {"data": {"values": [{"x": 0, "y": 0}]}, "mark": {"type": "point", "opacity": 0},
       "encoding": {
        "x": {"field": "x", "type": "quantitative", "scale": {"domain": [-40, 320], "nice": false, "zero": false}, "axis": {"orient": "bottom", "values": [-40,-30,-20,-10,0,10,20,30,40,50,60,70,80,90,100,110,120,130,140,150,160,170,180,190,200,210,220,230,240,250,260,270,280,290,300,310,320], "labels": false, "grid": false, "ticks": true, "tickSize": -4, "title": null}},
        "y": {"field": "y", "type": "quantitative", "scale": {"domain": [-2.5, 15], "nice": false, "zero": false}, "axis": {"orient": "left", "values": [-2.5,-1.875,-1.25,-0.625,0,0.625,1.25,1.875,2.5,3.125,3.75,4.375,5,5.625,6.25,6.875,7.5,8.125,8.75,9.375,10,10.625,11.25,11.875,12.5,13.125,13.75,14.375,15], "labels": false, "grid": false, "ticks": true, "tickSize": -4, "title": null}}
       }},
      {"data": {"values": [{"x": 0, "y": 0}]}, "mark": {"type": "point", "opacity": 0},
       "encoding": {
        "x": {"field": "x", "type": "quantitative", "scale": {"domain": [-40, 320], "nice": false, "zero": false}, "axis": {"orient": "top", "values": [-40,0,40,80,120,160,200,240,280,320], "labels": false, "grid": false, "ticks": true, "tickSize": -7, "title": null}},
        "y": {"field": "y", "type": "quantitative", "scale": {"domain": [-2.5, 15], "nice": false, "zero": false}, "axis": {"orient": "right", "values": [-2.5,0,2.5,5,7.5,10,12.5,15], "labels": false, "grid": false, "ticks": true, "tickSize": -7, "title": null}}
       }},
      {"data": {"values": [{"x": 0, "y": 0}]}, "mark": {"type": "point", "opacity": 0},
       "encoding": {
        "x": {"field": "x", "type": "quantitative", "scale": {"domain": [-40, 320], "nice": false, "zero": false}, "axis": {"orient": "top", "values": [-40,-30,-20,-10,0,10,20,30,40,50,60,70,80,90,100,110,120,130,140,150,160,170,180,190,200,210,220,230,240,250,260,270,280,290,300,310,320], "labels": false, "grid": false, "ticks": true, "tickSize": -4, "title": null}},
        "y": {"field": "y", "type": "quantitative", "scale": {"domain": [-2.5, 15], "nice": false, "zero": false}, "axis": {"orient": "right", "values": [-2.5,-1.875,-1.25,-0.625,0,0.625,1.25,1.875,2.5,3.125,3.75,4.375,5,5.625,6.25,6.875,7.5,8.125,8.75,9.375,10,10.625,11.25,11.875,12.5,13.125,13.75,14.375,15], "labels": false, "grid": false, "ticks": true, "tickSize": -4, "title": null}}
       }},
      {"data": {"name": "arrows"}, "transform": [{"filter": "datum.k == 'dash'"}],
       "mark": {"type": "rule", "color": "#8a8a8a", "strokeWidth": 1, "strokeDash": [4, 3]},
       "encoding": {
        "x": {"field": "x", "type": "quantitative", "scale": {"domain": [-40, 320], "nice": false, "zero": false}, "axis": null},
        "y": {"field": "y", "type": "quantitative", "scale": {"domain": [-2.5, 15], "nice": false, "zero": false}, "axis": null},
        "x2": {"field": "x2"}, "y2": {"field": "y2"}
       }},
      {"data": {"name": "arrows"}, "transform": [{"filter": "datum.k == 'gray'"}],
       "mark": {"type": "rule", "color": "#8a8a8a", "strokeWidth": 1},
       "encoding": {
        "x": {"field": "x", "type": "quantitative", "scale": {"domain": [-40, 320], "nice": false, "zero": false}, "axis": null},
        "y": {"field": "y", "type": "quantitative", "scale": {"domain": [-2.5, 15], "nice": false, "zero": false}, "axis": null},
        "x2": {"field": "x2"}, "y2": {"field": "y2"}
       }},
      {"data": {"name": "heads"}, "transform": [{"filter": "datum.k == 'down'"}],
       "mark": {"type": "point", "shape": "triangle-down", "angle": -12, "size": 28, "filled": true, "color": "#8a8a8a", "opacity": 1},
       "encoding": {
        "x": {"field": "x", "type": "quantitative", "scale": {"domain": [-40, 320], "nice": false, "zero": false}, "axis": null},
        "y": {"field": "y", "type": "quantitative", "scale": {"domain": [-2.5, 15], "nice": false, "zero": false}, "axis": null}
       }},
      {"data": {"name": "heads"}, "transform": [{"filter": "datum.k == 'up'"}],
       "mark": {"type": "point", "shape": "triangle-up", "angle": -12, "size": 28, "filled": true, "color": "#8a8a8a", "opacity": 1},
       "encoding": {
        "x": {"field": "x", "type": "quantitative", "scale": {"domain": [-40, 320], "nice": false, "zero": false}, "axis": null},
        "y": {"field": "y", "type": "quantitative", "scale": {"domain": [-2.5, 15], "nice": false, "zero": false}, "axis": null}
       }},
      {"data": {"name": "arrows"}, "transform": [{"filter": "datum.k == 'black'"}],
       "mark": {"type": "rule", "color": "#000000", "strokeWidth": 2},
       "encoding": {
        "x": {"field": "x", "type": "quantitative", "scale": {"domain": [-40, 320], "nice": false, "zero": false}, "axis": null},
        "y": {"field": "y", "type": "quantitative", "scale": {"domain": [-2.5, 15], "nice": false, "zero": false}, "axis": null},
        "x2": {"field": "x2"}, "y2": {"field": "y2"}
       }},
      {"data": {"name": "heads"}, "transform": [{"filter": "datum.k == 'black'"}],
       "mark": {"type": "point", "shape": "triangle-right", "angle": 42, "size": 110, "filled": true, "color": "#000000", "opacity": 1},
       "encoding": {
        "x": {"field": "x", "type": "quantitative", "scale": {"domain": [-40, 320], "nice": false, "zero": false}, "axis": null},
        "y": {"field": "y", "type": "quantitative", "scale": {"domain": [-2.5, 15], "nice": false, "zero": false}, "axis": null}
       }},
      {"data": {"name": "angles"}, "transform": [{"filter": "datum.p == 'b'"}],
       "mark": {"type": "text", "fontSize": 20, "align": "center", "baseline": "middle"},
       "encoding": {
        "x": {"field": "x", "type": "quantitative", "scale": {"domain": [-40, 320], "nice": false, "zero": false}, "axis": null},
        "y": {"field": "y", "type": "quantitative", "scale": {"domain": [-2.5, 15], "nice": false, "zero": false}, "axis": null},
        "text": {"field": "g"},
        "color": {"field": "g", "type": "nominal", "scale": {"domain": ["0°","45°","90°","135°"], "range": ["#0000ff","#ff0000","#00c000","#6c3ec9"]}, "legend": null}
       }},
      {"data": {"name": "notes"}, "transform": [{"filter": "datum.p == 'b' && datum.k == 'title'"}],
       "mark": {"type": "text", "fontSize": 32, "align": "center", "baseline": "middle", "color": "#1a1a1a"},
       "encoding": {
        "x": {"field": "x", "type": "quantitative", "scale": {"domain": [-40, 320], "nice": false, "zero": false}, "axis": null},
        "y": {"field": "y", "type": "quantitative", "scale": {"domain": [-2.5, 15], "nice": false, "zero": false}, "axis": null},
        "text": {"field": "txt"}
       }},
      {"data": {"name": "notes"}, "transform": [{"filter": "datum.k == 'roman'"}],
       "mark": {"type": "text", "fontSize": 22, "align": "center", "baseline": "middle", "color": "#1a1a1a"},
       "encoding": {
        "x": {"field": "x", "type": "quantitative", "scale": {"domain": [-40, 320], "nice": false, "zero": false}, "axis": null},
        "y": {"field": "y", "type": "quantitative", "scale": {"domain": [-2.5, 15], "nice": false, "zero": false}, "axis": null},
        "text": {"field": "txt"}
       }},
      {"data": {"name": "notes"}, "transform": [{"filter": "datum.k == 'pct'"}],
       "mark": {"type": "text", "fontSize": 20, "align": "center", "baseline": "middle", "color": "#9a9a9a"},
       "encoding": {
        "x": {"field": "x", "type": "quantitative", "scale": {"domain": [-40, 320], "nice": false, "zero": false}, "axis": null},
        "y": {"field": "y", "type": "quantitative", "scale": {"domain": [-2.5, 15], "nice": false, "zero": false}, "axis": null},
        "text": {"field": "txt"}
       }}
     ],
     "resolve": {"axis": {"x": "independent", "y": "independent"}}
    }
   ],
   "spacing": 37
  }
],
"spacing": 2,
"resolve": {"legend": {"color": "independent", "strokeWidth": "independent"}}
}
